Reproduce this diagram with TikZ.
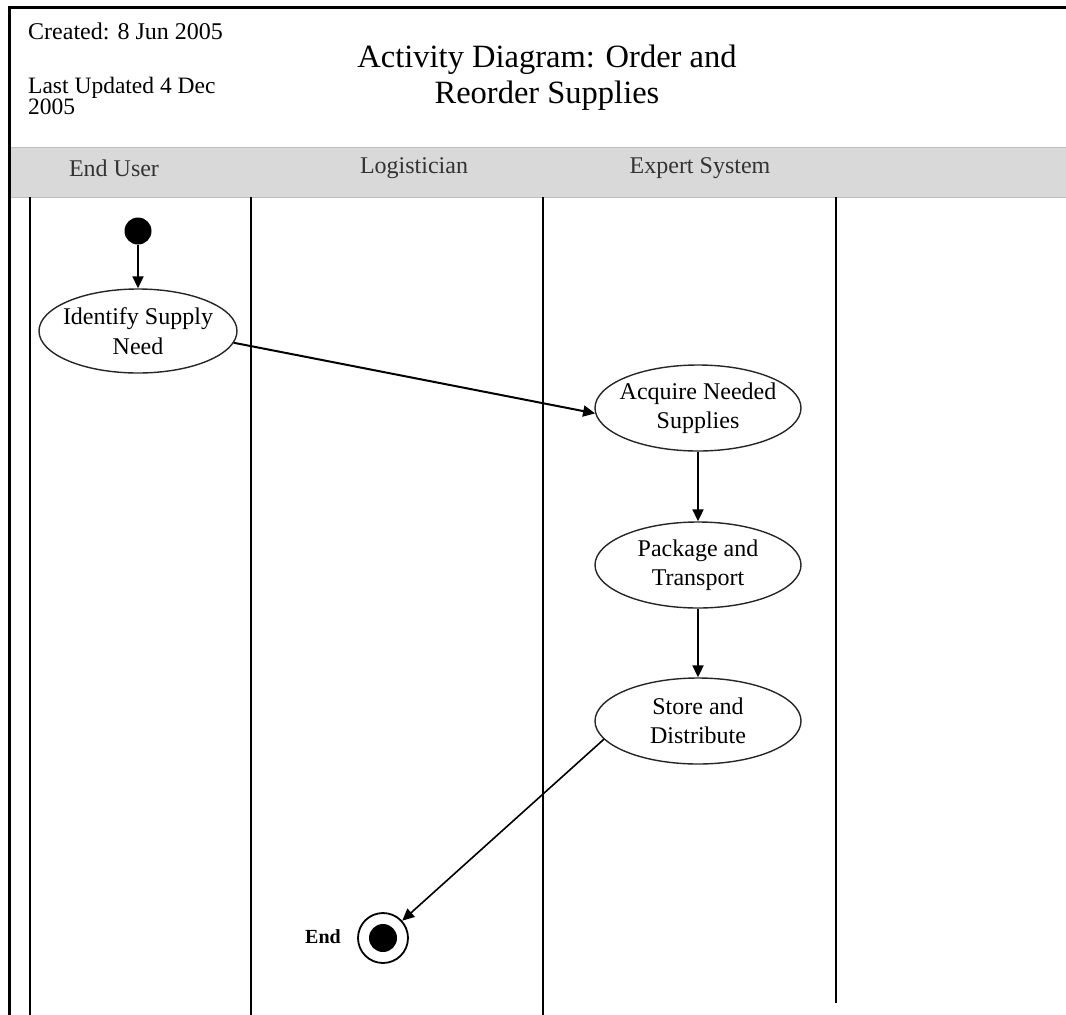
\documentclass[tikz,border=0pt]{standalone}
\usepackage{fontspec}
\setmainfont{Liberation Serif}
\usetikzlibrary{shapes.geometric,arrows.meta}
\definecolor{bandgray}{HTML}{D9D9D9}
\definecolor{bandedge}{HTML}{BDBDBD}
\definecolor{lanetext}{HTML}{333333}
\begin{document}
\begin{tikzpicture}[x=1pt,y=-1pt,
  frame/.style={line width=3pt},
  lane/.style={line width=2.6pt},
  lanelabel/.style={text=lanetext,font=\fontsize{24}{28}\selectfont,inner sep=0pt},
  act/.style={ellipse,draw=black!85,line width=1.4pt,fill=white,
    minimum width=206pt,minimum height=86pt,inner xsep=-10pt,inner ysep=0pt,
    align=center,font=\fontsize{24}{29.5}\selectfont},
  flow/.style={line width=2pt,-{Triangle[length=12pt,width=11pt]}},
  startdot/.style={circle,fill=black,minimum size=27pt,inner sep=0pt},
]
\useasboundingbox (0,0) rectangle (1066,1015);

% header band with the lane titles
\fill[bandgray] (11,147) rectangle (1066,197);
\draw[bandedge,line width=1pt] (11,147) -- (1066,147);
\draw[bandedge,line width=1pt] (11,197) -- (1066,197);

% outer frame (top and left edges)
\draw[frame] (9,1015) -- (9,7) -- (1066,7);

% swimlane separators
\draw[lane] (30,197) -- (30,1015);
\draw[lane] (251,197) -- (251,1015);
\draw[lane] (543,197) -- (543,1015);
\draw[lane] (836,197) -- (836,1003);

% lane titles
\node[lanelabel,anchor=base] (laneuser) at (114,176) {End User};
\node[lanelabel,anchor=base] (lanelog) at (414,173) {Logistician};
\node[lanelabel,anchor=base] (laneexp) at (700,173) {Expert System};

% document info and title
\node[anchor=base west,inner sep=0pt,font=\fontsize{24}{20}\selectfont] (created) at (28,39) {Created: 8 Jun 2005};
\node[anchor=west,inner sep=0pt,align=left,font=\fontsize{23.5}{21.5}\selectfont] (updated) at (28,96) {Last Updated 4 Dec\\2005};
\node[align=center,inner sep=0pt,font=\fontsize{32.5}{36}\selectfont] (title) at (547,78) {Activity Diagram: Order and\\Reorder Supplies};

% activities
\node[startdot] (start) at (138,231) {};
\node[act,minimum width=198pt,minimum height=84pt] (identify) at (138,331) {Identify Supply\\Need};
\node[act] (acquire) at (698,408) {Acquire Needed\\Supplies};
\node[act] (package) at (698,565) {Package and\\Transport};
\node[act] (store) at (698,721) {Store and\\Distribute};

% final state
\node[circle,draw=black,line width=1.8pt,minimum size=50pt,inner sep=0pt] (end) at (383,938) {};
\node[circle,fill=black,minimum size=28pt,inner sep=0pt] (endcore) at (end) {};
\node[anchor=east,inner sep=0pt,font=\fontsize{20}{24}\selectfont\bfseries] (endlabel) at (341,937) {End};

% control flow
\draw[flow] (start) -- (identify);
\draw[flow] (identify.-7) -- (acquire.183);
\draw[flow] (acquire) -- (package);
\draw[flow] (package) -- (store);
\draw[flow,line width=1.6pt] (store.191) -- (end);
\end{tikzpicture}
\end{document}
